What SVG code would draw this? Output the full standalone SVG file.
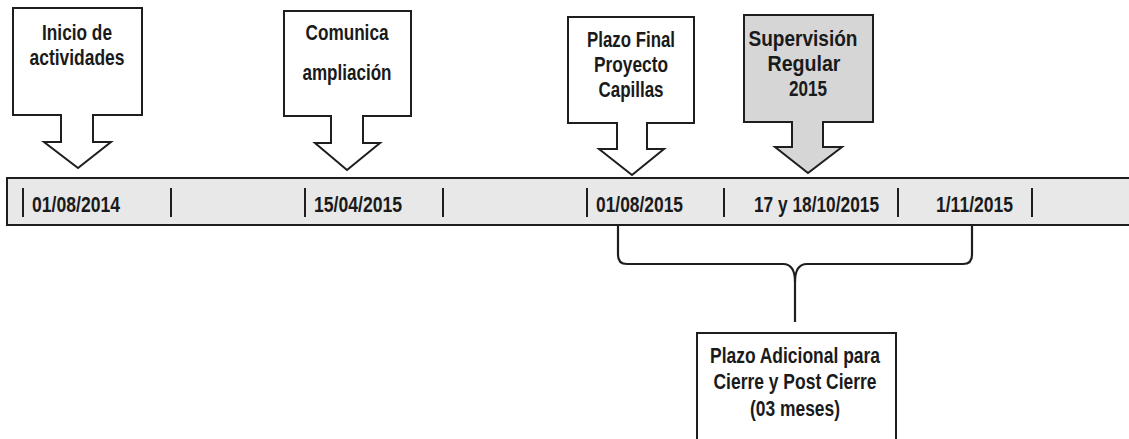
<svg xmlns="http://www.w3.org/2000/svg" width="1129" height="439" viewBox="0 0 1129 439">
<style>
.shape{fill:#ffffff;stroke:#1e1e1e;stroke-width:2;stroke-linejoin:miter}
.gray{fill:#d6d6d6}
.t{font-family:"Liberation Sans","Arial",sans-serif;font-weight:bold;font-size:22px;fill:#1a1a1a}
.c{text-anchor:middle}
.tick{stroke:#1e1e1e;stroke-width:2}
.conn{fill:none;stroke:#1e1e1e;stroke-width:2.2}
</style>
<rect width="1129" height="439" fill="#ffffff"/>
<g id="timeline">
<rect x="7" y="178" width="1130" height="47" fill="#e8e8e8" stroke="#1e1e1e" stroke-width="2"/>
<g class="tick">
<line x1="23" y1="188" x2="23" y2="217"/>
<line x1="171" y1="188" x2="171" y2="217"/>
<line x1="305" y1="188" x2="305" y2="217"/>
<line x1="443" y1="188" x2="443" y2="217"/>
<line x1="587" y1="188" x2="587" y2="217"/>
<line x1="724" y1="188" x2="724" y2="217"/>
<line x1="898" y1="188" x2="898" y2="217"/>
<line x1="1032" y1="188" x2="1032" y2="217"/>
</g>
<text class="t" x="32" y="212" textLength="88" lengthAdjust="spacingAndGlyphs">01/08/2014</text>
<text class="t" x="314" y="212" textLength="88" lengthAdjust="spacingAndGlyphs">15/04/2015</text>
<text class="t" x="596" y="212" textLength="87" lengthAdjust="spacingAndGlyphs">01/08/2015</text>
<text class="t" x="754" y="212" textLength="125" lengthAdjust="spacingAndGlyphs">17 y 18/10/2015</text>
<text class="t" x="936" y="212" textLength="77" lengthAdjust="spacingAndGlyphs">1/11/2015</text>
</g>
<g id="callout-inicio">
<path class="shape" d="M13,8 H142 V115 H93 V142 H111 L78,168 L44,142 H61 V115 H13 Z"/>
<text class="t c" x="77" y="40" textLength="70" lengthAdjust="spacingAndGlyphs">Inicio de</text>
<text class="t c" x="77" y="65" textLength="95" lengthAdjust="spacingAndGlyphs">actividades</text>
</g>
<g id="callout-comunica">
<path class="shape" d="M284,11 H411 V116 H363 V143 H380 L347,170 L315,143 H331 V116 H284 Z"/>
<text class="t c" x="347" y="40" textLength="83" lengthAdjust="spacingAndGlyphs">Comunica</text>
<text class="t c" x="347" y="80" textLength="89" lengthAdjust="spacingAndGlyphs">ampliación</text>
</g>
<g id="callout-plazo-final">
<path class="shape" d="M568,17 H694 V123 H647 V149 H664 L632,175 L599,149 H617 V123 H568 Z"/>
<text class="t c" x="631" y="47" textLength="88" lengthAdjust="spacingAndGlyphs">Plazo Final</text>
<text class="t c" x="631" y="72" textLength="74" lengthAdjust="spacingAndGlyphs">Proyecto</text>
<text class="t c" x="631" y="97" textLength="65" lengthAdjust="spacingAndGlyphs">Capillas</text>
</g>
<g id="callout-supervision">
<path class="shape gray" d="M744,15 H873 V122 H823 V147 H842 L808,173 L775,147 H792 V122 H744 Z"/>
<text class="t c" x="803" y="46" textLength="109" lengthAdjust="spacingAndGlyphs">Supervisión</text>
<text class="t c" x="804" y="71" textLength="73" lengthAdjust="spacingAndGlyphs">Regular</text>
<text class="t c" x="808" y="96" textLength="38" lengthAdjust="spacingAndGlyphs">2015</text>
</g>
<g id="connectors">
<path class="conn" d="M618,225 V255 Q618,264 627,264 H783 Q795,264 795,282 V322"/>
<path class="conn" d="M972,225 V255 Q972,264 963,264 H807 Q795,264 795,282"/>
</g>
<g id="plazo-adicional">
<rect class="shape" x="697" y="333" width="199" height="120"/>
<text class="t c" x="795" y="363" textLength="170" lengthAdjust="spacingAndGlyphs">Plazo Adicional para</text>
<text class="t c" x="795" y="389" textLength="163" lengthAdjust="spacingAndGlyphs">Cierre y Post Cierre</text>
<text class="t c" x="795" y="416" textLength="90" lengthAdjust="spacingAndGlyphs">(03 meses)</text>
</g>
</svg>
